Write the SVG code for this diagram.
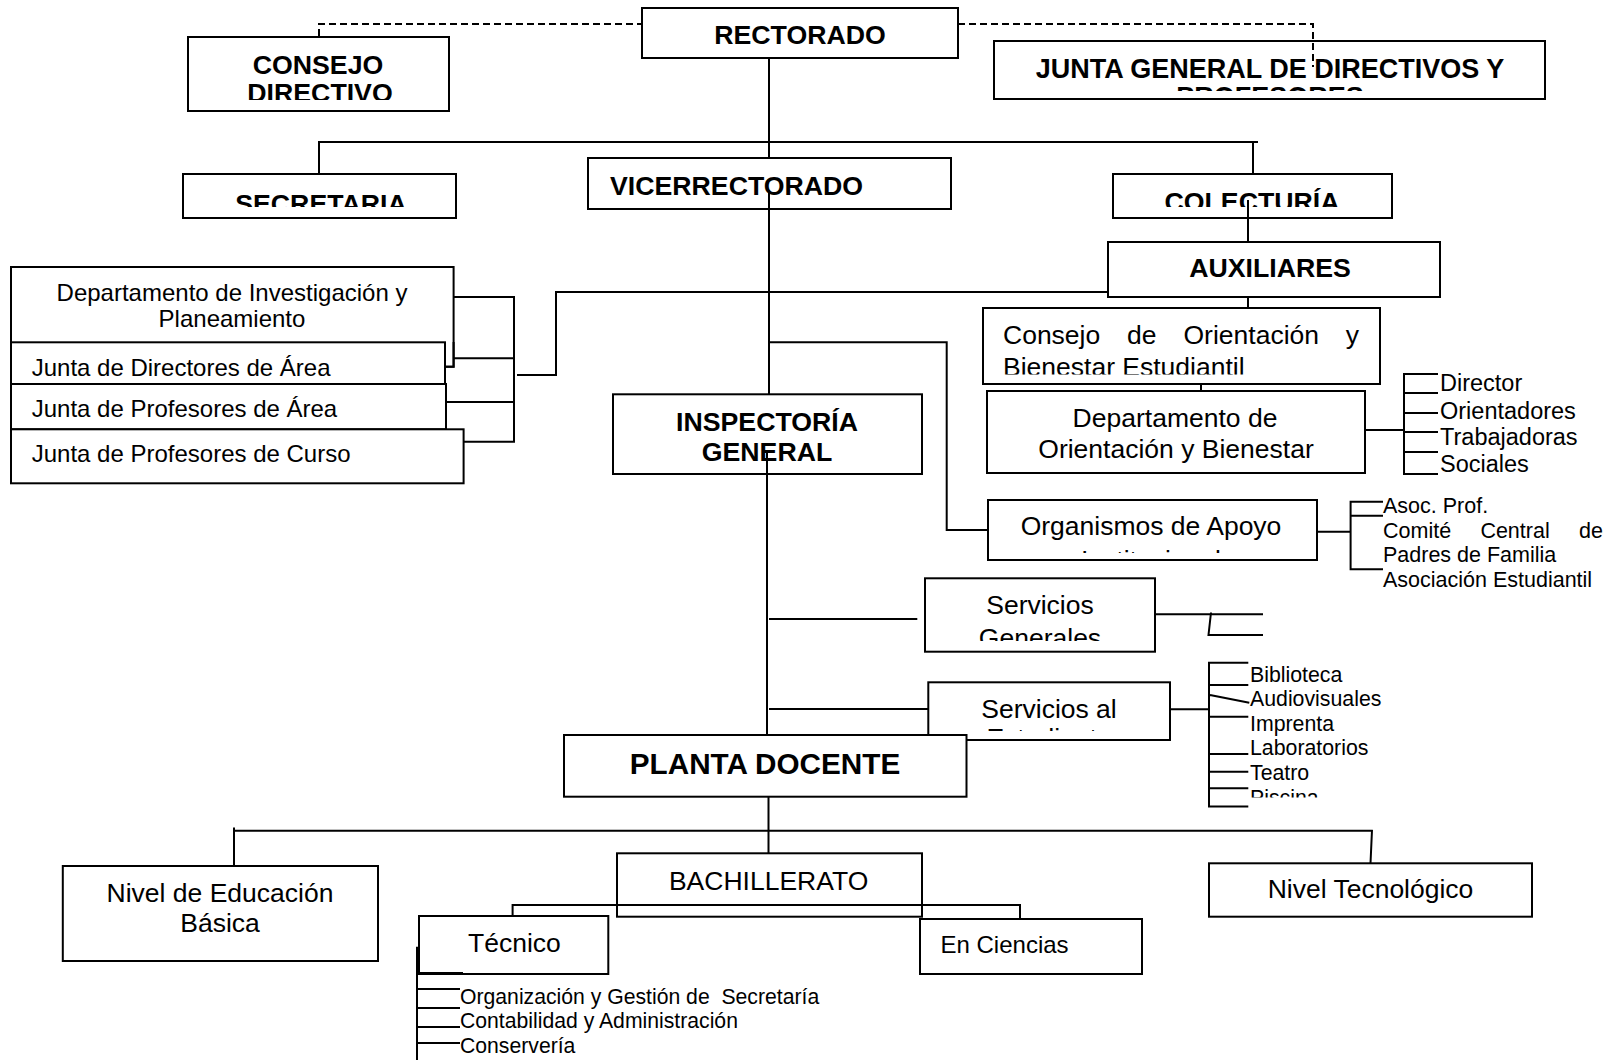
<svg xmlns="http://www.w3.org/2000/svg" width="1607" height="1060" viewBox="0 0 1607 1060">
<style>
.box{fill:#fff;stroke:#000;stroke-width:2}
.ln{fill:none;stroke:#000;stroke-width:2}
.dash{stroke-dasharray:7 4}
text{font-family:'Liberation Sans',Arial,Helvetica,sans-serif;fill:#000}
.b{font-weight:bold;font-size:26.7px}
.c{text-anchor:middle}
.r26{font-size:26.5px}
.r24{font-size:24px}
.r21{font-size:21.3px}
.r23{font-size:23.5px}
</style>
<defs>
<clipPath id="k1"><rect x="188" y="37" width="261" height="63"/></clipPath>
<clipPath id="k2"><rect x="994" y="41" width="551" height="50"/></clipPath>
<clipPath id="k3"><rect x="183" y="174" width="273" height="33"/></clipPath>
<clipPath id="k4"><rect x="1113" y="174" width="279" height="33"/></clipPath>
<clipPath id="k5"><rect x="983" y="308" width="397" height="66.5"/></clipPath>
<clipPath id="k6"><rect x="988" y="500" width="329" height="53"/></clipPath>
<clipPath id="k7"><rect x="925" y="578" width="230" height="63"/></clipPath>
<clipPath id="k8"><rect x="928" y="682" width="242" height="49"/></clipPath>
<clipPath id="k9"><rect x="1240" y="650" width="200" height="147.5"/></clipPath>
</defs>

<g id="rectorado">
<rect class="box" x="642" y="8" width="316" height="50"/>
<text class="b c" x="800" y="43.5">RECTORADO</text>
</g>
<g id="consejo-directivo">
<rect class="box" x="188" y="37" width="261" height="74"/>
<g clip-path="url(#k1)">
<text class="b c" x="318" y="73.5">CONSEJO</text>
<text class="b c" x="320" y="102">DIRECTIVO</text>
</g>
</g>
<g id="junta-general">
<rect class="box" x="994" y="41" width="551" height="58"/>
<g clip-path="url(#k2)">
<text class="b c" x="1270" y="77.5" style="font-size:27px">JUNTA GENERAL DE DIRECTIVOS Y</text>
<text class="b c" x="1270" y="106" style="font-size:27px">PROFESORES</text>
</g>
</g>
<g id="secretaria">
<rect class="box" x="183" y="174" width="273" height="44"/>
<text class="b c" x="321" y="212.6" clip-path="url(#k3)">SECRETARIA</text>
</g>
<g id="vicerrectorado">
<rect class="box" x="588" y="158" width="363" height="51"/>
<text class="b" x="610" y="195">VICERRECTORADO</text>
</g>
<g id="colecturia">
<rect class="box" x="1113" y="174" width="279" height="44"/>
<text class="b c" x="1252" y="211.3" clip-path="url(#k4)">COLECTURÍA</text>
</g>
<g id="auxiliares">
<rect class="box" x="1108" y="242" width="332" height="55"/>
<text class="b c" x="1270" y="277">AUXILIARES</text>
</g>

<g id="dep-investigacion">
<rect class="box" x="11" y="267" width="442.6" height="99.7"/>
<text class="r24 c" x="232" y="300.7">Departamento de Investigación y</text>
<text class="r24 c" x="232" y="326.7">Planeamiento</text>
</g>
<g id="junta-directores">
<rect class="box" x="11" y="342.3" width="434" height="41.7"/>
<text class="r24" x="31.7" y="375.7">Junta de Directores de Área</text>
</g>
<g id="junta-prof-area">
<rect class="box" x="11" y="384" width="435" height="45.3"/>
<text class="r24" x="31.7" y="417.3">Junta de Profesores de Área</text>
</g>
<g id="junta-prof-curso">
<rect class="box" x="11" y="429.3" width="452.6" height="54"/>
<text class="r24" x="31.7" y="462.3">Junta de Profesores de Curso</text>
</g>

<g id="inspectoria">
<rect class="box" x="613" y="394.3" width="309" height="79.7"/>
<text class="b c" x="767" y="431">INSPECTORÍA</text>
<text class="b c" x="767" y="461">GENERAL</text>
</g>

<g id="consejo-orientacion">
<rect class="box" x="983" y="308" width="397" height="76"/>
<text class="r26" x="1003" y="344">Consejo</text>
<text class="r26" x="1127" y="344">de</text>
<text class="r26" x="1183.5" y="344">Orientación</text>
<text class="r26" x="1359" y="344" text-anchor="end">y</text>
<text class="r26" x="1003" y="376" clip-path="url(#k5)">Bienestar Estudiantil</text>
</g>
<g id="dep-orientacion">
<rect class="box" x="987" y="391" width="378" height="82"/>
<text class="r26 c" x="1175" y="427">Departamento de</text>
<text class="r26 c" x="1176" y="458">Orientación y Bienestar</text>
</g>
<g id="dep-orientacion-lista">
<text class="r23" x="1440" y="391">Director</text>
<text class="r23" x="1440" y="418.5">Orientadores</text>
<text class="r23" x="1440" y="445">Trabajadoras</text>
<text class="r23" x="1440" y="472">Sociales</text>
</g>

<g id="organismos">
<rect class="box" x="988" y="500" width="329" height="60"/>
<g clip-path="url(#k6)">
<text class="r26 c" x="1151" y="535">Organismos de Apoyo</text>
<text class="r26 c" x="1151" y="568.5">Institucional</text>
</g>
</g>
<g id="organismos-lista" style="font-size:21.5px">
<text x="1383" y="513">Asoc. Prof.</text>
<text x="1383" y="537.5">Comité</text>
<text x="1480.4" y="537.5">Central</text>
<text x="1603" y="537.5" text-anchor="end">de</text>
<text x="1383" y="562">Padres de Familia</text>
<text x="1383" y="586.5">Asociación Estudiantil</text>
</g>

<g id="servicios-generales">
<rect class="box" x="925" y="578.3" width="230" height="73.4"/>
<g clip-path="url(#k7)">
<text class="r26 c" x="1040" y="614">Servicios</text>
<text class="r26 c" x="1040" y="647">Generales</text>
</g>
</g>
<g id="servicios-estudiante">
<rect class="box" x="928.3" y="682.3" width="241.7" height="57.7"/>
<g clip-path="url(#k8)">
<text class="r26 c" x="1049" y="717.5">Servicios al</text>
<text class="r26 c" x="1049" y="747">Estudiante</text>
</g>
</g>
<g id="servicios-lista">
<text class="r21" x="1250" y="681.5">Biblioteca</text>
<text class="r21" x="1250" y="706">Audiovisuales</text>
<text class="r21" x="1250" y="730.5">Imprenta</text>
<text class="r21" x="1250" y="755">Laboratorios</text>
<text class="r21" x="1250" y="779.5">Teatro</text>
<text class="r21" x="1250" y="804.5" clip-path="url(#k9)">Piscina</text>
</g>

<g id="planta-docente">
<rect class="box" x="564" y="735" width="402.5" height="61.7"/>
<text class="b c" x="765" y="774" style="font-size:29.7px">PLANTA DOCENTE</text>
</g>

<g id="nivel-basica">
<rect class="box" x="62.8" y="866" width="315.2" height="95"/>
<text class="r26 c" x="220" y="901.7">Nivel de Educación</text>
<text class="r26 c" x="220" y="932">Básica</text>
</g>
<g id="bachillerato">
<rect class="box" x="617" y="853.3" width="305" height="63.4"/>
<text class="r26 c" x="768.6" y="889.8">BACHILLERATO</text>
</g>
<g id="nivel-tecnologico">
<rect class="box" x="1209" y="863.3" width="323" height="53.4"/>
<text class="r26 c" x="1370.5" y="898.3">Nivel Tecnológico</text>
</g>
<g id="tecnico">
<rect class="box" x="419" y="916" width="189.3" height="58"/>
<text class="r26 c" x="514.4" y="951.7">Técnico</text>
</g>
<g id="en-ciencias">
<rect class="box" x="920" y="919" width="222" height="55"/>
<text class="r24" x="940.5" y="952.7">En Ciencias</text>
</g>
<g id="tecnico-lista" style="font-size:21.2px">
<text x="460" y="1003.5" xml:space="preserve">Organización y Gestión de  Secretaría</text>
<text x="460" y="1027.5">Contabilidad y Administración</text>
<text x="460" y="1052.5">Conservería</text>
</g>

<g id="connectors">
<path class="ln dash" d="M319,36 V24 H642"/>
<path class="ln dash" d="M958,24 H1313 V67"/>
<path class="ln" d="M769,58 V158"/>
<path class="ln" d="M319,174 V142 H1258"/>
<path class="ln" d="M1253,142 V174"/>
<path class="ln" d="M769,190 V394.3"/>
<path class="ln" d="M1248,200 V242"/>
<path class="ln" d="M1248,297 V308"/>
<path class="ln" d="M1201,384 V391"/>
<path class="ln" d="M1108,292 H556 V375 H517"/>
<path class="ln" d="M453.6,297 H514 M514,296 V442.7 M453.6,358.3 H514 M446,402 H514 M463.6,441.7 H514"/>
<path class="ln" d="M446,366.7 H453.6 V342"/>
<path class="ln" d="M769,342.3 H946.7 V530 H988"/>
<path class="ln" d="M767,450 V735"/>
<path class="ln" d="M1365,430 H1404 M1404,373 V475 M1404,374 H1438 M1404,393 H1438 M1404,413 H1438 M1404,432 H1438 M1404,452 H1438 M1404,474 H1438"/>
<path class="ln" d="M1317,531.7 H1350.6 M1350.6,500.7 V570.3 M1350.6,501.7 H1383 M1350.6,515.7 H1383 M1350.6,569.3 H1383"/>
<path class="ln" d="M769,619 H917.3"/>
<path class="ln" d="M1155,614.3 H1263 M1211,612.5 L1208.5,635 H1263"/>
<path class="ln" d="M769,709 H928.3"/>
<path class="ln" d="M1170,709.3 H1209 M1209,661.7 V807.5 M1209,662.7 H1248.3 M1209,685 H1248.3 M1210,695 L1249.3,702.7 M1209,716.7 H1248.3 M1209,754 H1248.3 M1209,771.7 H1248.3 M1209,788.3 H1248.3 M1209,806.5 H1248.3"/>
<path class="ln" d="M768.5,796.7 V853.3"/>
<path class="ln" d="M234,866 V827.5 M234,830.8 H1372.8 M1372,830 L1370.5,863.3"/>
<path class="ln" d="M512.6,916 V905 H1020 V919"/>
<path class="ln" d="M417,946.7 V1060 M417,973 H463 M417,989 H460 M417,1008 H460 M417,1027 H460 M417,1043 H460"/>
</g>
</svg>
